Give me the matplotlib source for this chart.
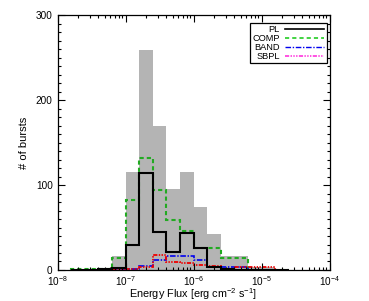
import numpy as np
import matplotlib
matplotlib.use("Agg")
import matplotlib.pyplot as plt
from matplotlib.lines import Line2D
from matplotlib.ticker import LogLocator, MultipleLocator

plt.rcParams["font.family"] = ["Liberation Sans", "DejaVu Sans"]
plt.rcParams["mathtext.fontset"] = "custom"
plt.rcParams["mathtext.rm"] = "Liberation Sans"
plt.rcParams["mathtext.it"] = "Liberation Sans"
plt.rcParams["mathtext.bf"] = "Liberation Sans"
plt.rcParams["lines.scale_dashes"] = False

# log10 flux bin edges (0.2 dex bins)
log_edges = np.round(np.arange(-7.8, -4.59, 0.2), 1)

# counts per bin
all_bursts = [0, 0, 1, 16, 115, 259, 170, 95, 115, 74, 42, 17, 17, 3, 3, 0]
pl_counts = [0, 0, 1, 2, 30, 114, 45, 21, 44, 26, 4, 1, 0, 0, 0, 0]
comp_counts = [1, 1, 1, 14, 82, 132, 94, 59, 46, 26, 26, 14, 14, 0, 0, 0]
band_counts = [0, 0, 0, 0, 1, 5, 12, 17, 17, 12, 4, 3, 3, 0, 0, 0]
sbpl_counts = [0, 0, 0, 0, 1, 4, 18, 9, 8, 6, 5, 1, 3, 3, 3, 0]

edges = 10.0 ** log_edges

fig = plt.figure(figsize=(3.69, 3.01), dpi=100)
ax = fig.add_axes([0.156, 0.103, 0.737, 0.847])

ax.stairs(all_bursts, edges, fill=True, color="#b4b4b4", linewidth=0)
ax.stairs(comp_counts, edges, color="#22aa22", linewidth=1.5, linestyle=(0, (3, 2.2)))
ax.stairs(band_counts, edges, color="#0000ee", linewidth=1.2, linestyle=(0, (4, 1.2, 1, 1.2)))
ax.stairs(sbpl_counts, edges, color="#ee0000", linewidth=1.3,
          linestyle=(0, (3, 1, 1, 1, 1, 1, 1, 1)))
ax.stairs(pl_counts, edges, color="black", linewidth=1.5)

ax.set_xscale("log")
ax.set_xlim(1e-8, 1e-4)
ax.set_ylim(0, 300)
ax.xaxis.set_major_locator(LogLocator(base=10, numticks=10))
ax.xaxis.set_minor_locator(LogLocator(base=10, subs=np.arange(2, 10), numticks=20))
ax.yaxis.set_major_locator(MultipleLocator(100))
ax.yaxis.set_minor_locator(MultipleLocator(10))
ax.tick_params(which="both", direction="in", top=True, right=True, labelsize=7.2, width=0.8)
ax.tick_params(which="major", length=5)
ax.tick_params(which="minor", length=2.5)
ax.tick_params(axis="x", pad=3)
for s in ax.spines.values():
    s.set_linewidth(0.9)

ax.set_xlabel(r"Energy Flux [erg cm$^{-2}$ s$^{-1}$]", fontsize=7.8, labelpad=-1)
ax.set_ylabel("# of bursts", fontsize=8, labelpad=5)

handles = [
    Line2D([], [], color="black", linewidth=1.2),
    Line2D([], [], color="#22cc22", linewidth=1.2, linestyle=(0, (3, 2.2))),
    Line2D([], [], color="#0000ee", linewidth=1.0, linestyle=(0, (4, 1.2, 1, 1.2))),
    Line2D([], [], color="#ff33dd", linewidth=1.2, linestyle=(0, (3, 1, 1, 1, 1, 1, 1, 1))),
]
leg = ax.legend(handles, ["PL", "COMP", "BAND", "SBPL"], loc="upper right",
                bbox_to_anchor=(0.99, 0.97), fontsize=6.7, markerfirst=False,
                fancybox=False, framealpha=1, edgecolor="black", handlelength=4.2,
                labelspacing=0.0, borderpad=0.25, handletextpad=0.6, borderaxespad=0)
leg.get_frame().set_linewidth(0.9)
leg._legend_handle_box.get_children()[0].align = "right"

fig.savefig("out.png", dpi=100)
